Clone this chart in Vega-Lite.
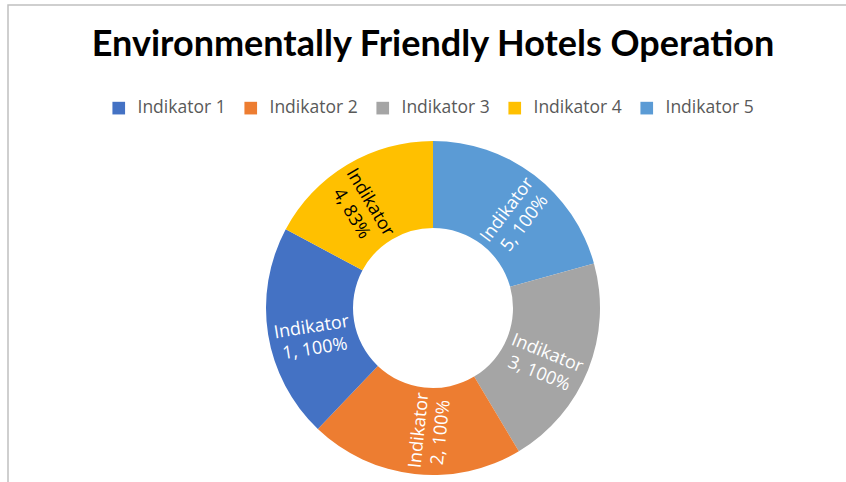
{
  "$schema": "https://vega.github.io/schema/vega-lite/v6.json",
  "width": 850,
  "height": 606,
  "autosize": {"type": "none"},
  "padding": {"left": 8, "top": 5, "right": 0, "bottom": 0},
  "background": "white",
  "view": {"stroke": "#C0C0C0", "strokeWidth": 1.5},
  "config": {
    "view": {"stroke": "#C0C0C0", "strokeWidth": 1.5},
    "font": "Open Sans"
  },
  "title": {
    "text": "Environmentally Friendly Hotels Operation",
    "font": "Lato",
    "fontSize": 36,
    "fontWeight": "bold",
    "color": "#000000",
    "anchor": "middle",
    "baseline": "alphabetic",
    "offset": -52,
    "dy": 35
  },
  "data": {
    "values": [
      {"indikator": "Indikator 5", "value": 100},
      {"indikator": "Indikator 3", "value": 100},
      {"indikator": "Indikator 2", "value": 100},
      {"indikator": "Indikator 1", "value": 100},
      {"indikator": "Indikator 4", "value": 83}
    ]
  },
  "transform": [
    {"window": [{"op": "row_number", "as": "slice_order"}]},
    {"calculate": "replace(datum.indikator, ' ', '\\n') + ', ' + datum.value + '%'", "as": "label"}
  ],
  "layer": [
    {
      "mark": {"type": "arc", "innerRadius": 80, "outerRadius": 167},
      "encoding": {
        "theta": {"field": "value", "type": "quantitative", "stack": true},
        "order": {"field": "slice_order", "type": "quantitative"},
        "color": {
          "field": "indikator",
          "type": "nominal",
          "scale": {
            "domain": ["Indikator 1", "Indikator 2", "Indikator 3", "Indikator 4", "Indikator 5"],
            "range": ["#4472C4", "#ED7D31", "#A5A5A5", "#FFC000", "#5B9BD5"]
          },
          "legend": {
            "title": null,
            "orient": "none",
            "direction": "horizontal",
            "columns": 5,
            "legendX": 102,
            "legendY": 94,
            "padding": 0,
            "symbolType": "square",
            "symbolSize": 160,
            "symbolStrokeWidth": 0,
            "labelFont": "Open Sans",
            "labelFontSize": 17.5,
            "labelColor": "#595959",
            "labelOffset": 10,
            "columnPadding": 16
          }
        }
      }
    },
    {
      "mark": {"type": "text", "radius": 123, "fontSize": 18, "lineBreak": "\n", "lineHeight": 22, "align": "center", "baseline": "middle", "font": "Open Sans"},
      "encoding": {
        "theta": {"field": "value", "type": "quantitative", "stack": true},
        "order": {"field": "slice_order", "type": "quantitative"},
        "detail": {"field": "indikator", "type": "nominal"},
        "text": {"field": "label", "type": "nominal"},
        "color": {
          "condition": {"test": "datum.indikator === 'Indikator 4'", "value": "#000000"},
          "value": "#FFFFFF"
        },
        "angle": {
          "condition": [
            {"test": "datum.indikator === 'Indikator 5'", "value": -53},
            {"test": "datum.indikator === 'Indikator 3'", "value": 22},
            {"test": "datum.indikator === 'Indikator 2'", "value": -84},
            {"test": "datum.indikator === 'Indikator 4'", "value": 59}
          ],
          "value": -9
        }
      }
    }
  ]
}
